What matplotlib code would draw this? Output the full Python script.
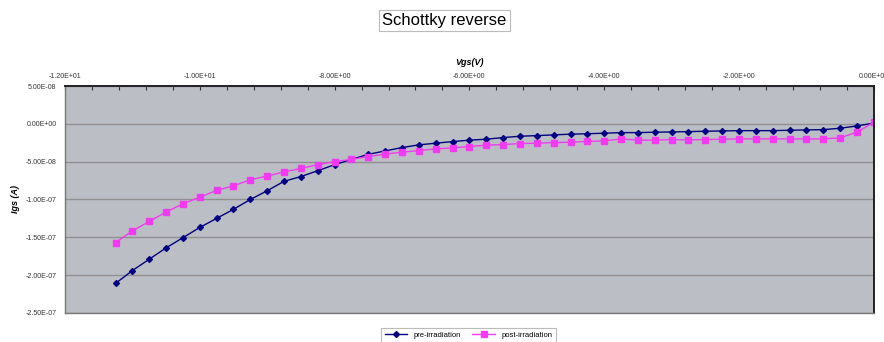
import matplotlib
matplotlib.use('Agg')
import matplotlib.pyplot as plt
from matplotlib.ticker import FuncFormatter, MultipleLocator
import numpy as np

# gate voltage sweep, 0.25 V steps from -11.25 V to 0 V
vgs = np.arange(-11.25, 0.001, 0.25)

pre = [-2.11e-7, -1.94e-7, -1.79e-7, -1.64e-7, -1.505e-7, -1.37e-7, -1.25e-7,
       -1.13e-7, -1.00e-7, -8.85e-8, -7.6e-8, -6.97e-8, -6.2e-8, -5.4e-8,
       -4.7e-8, -4.03e-8, -3.58e-8, -3.14e-8, -2.78e-8, -2.56e-8, -2.35e-8,
       -2.16e-8, -2.03e-8, -1.82e-8, -1.64e-8, -1.56e-8, -1.46e-8, -1.37e-8,
       -1.31e-8, -1.24e-8, -1.16e-8, -1.16e-8, -1.11e-8, -1.07e-8, -1.03e-8,
       -0.98e-8, -0.94e-8, -0.9e-8, -0.9e-8, -0.9e-8, -0.85e-8, -0.8e-8,
       -0.77e-8, -0.58e-8, -0.28e-8, 0.1e-8]

post = [-1.57e-7, -1.417e-7, -1.29e-7, -1.166e-7, -1.057e-7, -9.7e-8, -8.8e-8,
        -8.2e-8, -7.4e-8, -6.9e-8, -6.35e-8, -5.9e-8, -5.4e-8, -5.0e-8,
        -4.7e-8, -4.33e-8, -4.0e-8, -3.75e-8, -3.54e-8, -3.31e-8, -3.18e-8,
        -3.0e-8, -2.82e-8, -2.74e-8, -2.61e-8, -2.56e-8, -2.48e-8, -2.43e-8,
        -2.33e-8, -2.26e-8, -1.99e-8, -2.16e-8, -2.16e-8, -2.08e-8, -2.12e-8,
        -2.08e-8, -2.03e-8, -1.99e-8, -1.99e-8, -1.99e-8, -1.99e-8, -1.99e-8,
        -1.99e-8, -1.86e-8, -1.1e-8, 0.2e-8]

plt.rcParams['font.family'] = ['Liberation Sans', 'DejaVu Sans']

fig = plt.figure(figsize=(8.84, 3.42), dpi=100)
ax = fig.add_axes([0.0735, 0.085, 0.915, 0.6635])
ax.set_facecolor('#bcbec6')

ax.plot(vgs, pre, color='#000080', marker='D', markersize=3, linewidth=1,
        label='pre-irradiation')
ax.plot(vgs, post, color='#f03cf0', marker='s', markersize=5, linewidth=1,
        label='post-irradiation')

ax.set_xlim(-12, 0)
ax.set_ylim(-2.5e-7, 5e-8)
ax.xaxis.set_major_locator(MultipleLocator(2))
ax.xaxis.set_minor_locator(MultipleLocator(0.4))
ax.yaxis.set_major_locator(MultipleLocator(5e-8))

sci = FuncFormatter(lambda v, pos: '%.2E' % (0.0 if abs(v) < 1e-12 else v))
ax.xaxis.set_major_formatter(sci)
ax.yaxis.set_major_formatter(sci)

ax.xaxis.tick_top()
ax.xaxis.set_label_position('top')
ax.tick_params(axis='x', which='both', direction='in', length=3, width=0.8,
               labelsize=5, pad=4, colors='#333333')
ax.tick_params(axis='y', length=0, labelsize=5, pad=6, colors='#333333')

ax.grid(axis='y', color='#909090', linewidth=1.0)
ax.set_axisbelow(True)

for side in ['top', 'right']:
    ax.spines[side].set_color('#222222')
    ax.spines[side].set_linewidth(1.4)
for side in ['left', 'bottom']:
    ax.spines[side].set_color('#777777')
    ax.spines[side].set_linewidth(1.0)

ax.set_xlabel('Vgs(V)', fontsize=6.5, fontweight='bold', fontstyle='italic',
              labelpad=6)
ax.set_ylabel('Igs (A)', fontsize=6.5, fontweight='bold', fontstyle='italic',
              labelpad=4)

fig.text(0.5025, 0.94, 'Schottky reverse', ha='center', va='center',
         fontsize=12,
         bbox=dict(boxstyle='square,pad=0.2', facecolor='white',
                   edgecolor='#bbbbbb', linewidth=0.8))

leg = fig.legend(loc='center', bbox_to_anchor=(0.53, 0.02), ncol=2,
                 fontsize=5.5, frameon=True, fancybox=False,
                 edgecolor='#aaaaaa', handlelength=3, columnspacing=1.5,
                 borderpad=0.5)
leg.get_frame().set_linewidth(0.8)

fig.savefig('out.png', dpi=100)
